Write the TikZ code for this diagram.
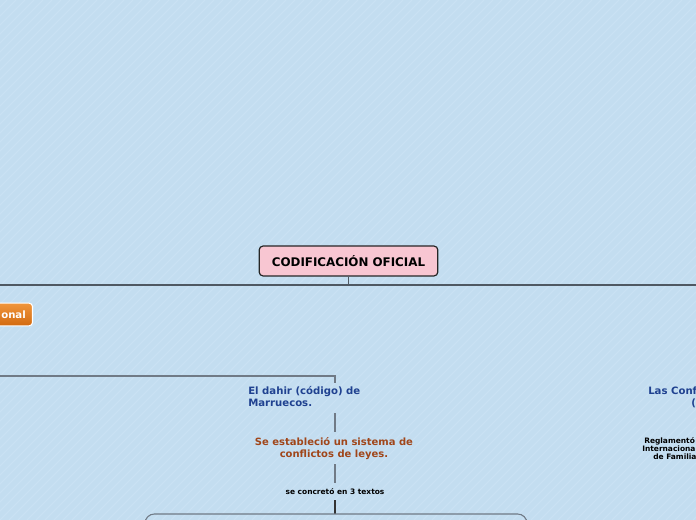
\documentclass[tikz,border=0pt]{standalone}
\usepackage{fontspec}
\setmainfont{DejaVu Sans}
\definecolor{bg}{HTML}{C3DDF0}
\definecolor{stripe}{HTML}{C9E1F3}
\definecolor{rootfill}{HTML}{F8C6D2}
\definecolor{mainline}{HTML}{4F5862}
\definecolor{subline}{HTML}{707A86}
\definecolor{bluetext}{HTML}{1F4190}
\definecolor{browntext}{HTML}{A0461A}
\definecolor{orangetop}{HTML}{F0963C}
\definecolor{orangebot}{HTML}{D2690F}
\tikzset{
  rootbox/.style={draw=black!85, line width=0.9pt, rounded corners=3pt, fill=rootfill,
    font=\fontsize{8.9}{10}\bfseries, minimum height=22.5pt, minimum width=134pt},
  orangebox/.style={draw=white, line width=0.8pt, rounded corners=2.5pt, top color=orangetop,
    bottom color=orangebot, text=white, font=\fontsize{7.6}{9}\bfseries, minimum height=17pt,
    text width=40pt, align=right, inner xsep=5pt},
  bluelbl/.style={text=bluetext, font=\fontsize{7.6}{9.2}\bfseries, align=left, inner sep=0pt},
  brownlbl/.style={text=browntext, font=\fontsize{7.5}{9.2}\bfseries, align=center, inner sep=0pt},
  smalllbl/.style={text=black, font=\fontsize{5.6}{6.6}\bfseries, inner sep=0pt},
  mainconn/.style={draw=mainline, line width=1.1pt},
  subconn/.style={draw=subline, line width=0.8pt},
  darkconn/.style={draw=black!80, line width=0.8pt}
}
\begin{document}
\begin{tikzpicture}[x=0.75pt,y=-0.75pt]
\useasboundingbox (0,0) rectangle (696,520);
\clip (0,0) rectangle (696,520);
\fill[bg] (0,0) rectangle (696,520);
\foreach \i in {-60,...,80} {
  \draw[stripe, line width=1pt] (\i*9,520) -- (\i*9+520,0);
}
% root
\node[rootbox] (root) at (348.5,261) {CODIFICACIÓN OFICIAL};
\coordinate (busL) at (0,285);
\coordinate (busR) at (696,285);
\coordinate (busC) at (348.5,285);
\draw[mainconn] (busL) -- (busR);
\draw[mainconn] (root.south) -- (busC);
% orange node (cut at left edge)
\node[orangebox, anchor=east] (orange) at (33,314.5) {onal};
% sub bus
\coordinate (subL) at (0,376);
\coordinate (subC) at (335,376);
\coordinate (subD) at (335,383);
\draw[subconn] (subL) -- (subC) -- (subD);
% dahir
\node[bluelbl, anchor=north west] (dahir) at (248,386) {El dahir (código) de\\Marruecos.};
\coordinate (d1) at (335,413);
\coordinate (d2) at (335,432);
\draw[subconn] (d1) -- (d2);
\node[brownlbl, anchor=north] (sistema) at (334,437) {Se estableció un sistema de\\conflictos de leyes.};
\coordinate (s1) at (335,464);
\coordinate (s2) at (335,483);
\draw[subconn] (s1) -- (s2);
\node[smalllbl] (concreto) at (335,491.5) {se concretó en 3 textos};
\coordinate (c1) at (335,500);
\coordinate (c2) at (335,514);
\draw[darkconn] (c1) -- (c2);
\coordinate (bl) at (145,530);
\coordinate (br) at (527,530);
\draw[subconn, rounded corners=7pt] (bl) -- (145,514) -- (527,514) -- (br);
% right side, cut off
\node[bluelbl, anchor=north west] (conf) at (648,387) {Las Conf};
\node[bluelbl, anchor=north west] (confb) at (691,399) {(};
\node[smalllbl, anchor=north west] (regl1) at (644,437) {Reglamentó c};
\node[smalllbl, anchor=north west] (regl2) at (642,445.5) {Internacional};
\node[smalllbl, anchor=north west] (regl3) at (653,454) {de Familia};
\end{tikzpicture}
\end{document}
